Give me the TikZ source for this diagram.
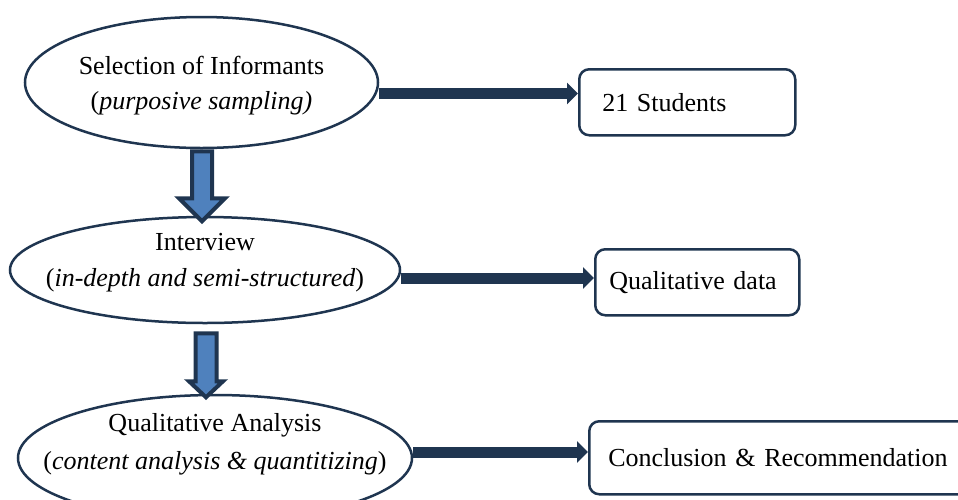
\documentclass[tikz,border=0pt]{standalone}
\usepackage{fontspec}
\setmainfont{Liberation Serif}
\usetikzlibrary{shapes.geometric,arrows.meta,calc}
\definecolor{navy}{HTML}{1F3550}
\definecolor{fillblue}{HTML}{4F81BD}
\tikzset{
  ell/.style={ellipse, draw=navy, line width=2.5pt, inner sep=0pt},
  elltext/.style={align=center, inner sep=0pt},
  boxn/.style={draw=navy, line width=2.5pt, rounded corners=10pt, anchor=north west,
    align=left, inner ysep=0pt, font=\fontsize{26}{32}\selectfont},
  harrow/.style={draw=navy, line width=11pt, -{Triangle[length=11pt,width=21pt]}},
  blockarrow/.style={draw=navy, fill=fillblue, line width=4pt, line join=miter}
}
\begin{document}
\begin{tikzpicture}[x=1pt,y=-1pt]
\useasboundingbox (0,0) rectangle (958,499);
\clip (0,0) rectangle (958,499);
% ellipses
\node[ell, minimum width=353, minimum height=131,
  label={[elltext, yshift=-3pt, font=\fontsize{26}{35}\selectfont]center:Selection of Informants\\(\textit{purposive sampling)}}] (e1) at (201.5,82.5) {};
\node[ell, minimum width=390, minimum height=106,
  label={[elltext, yshift=7pt, font=\fontsize{26}{36}\selectfont]center:Interview\\(\textit{in-depth and semi-structured})}] (e2) at (205,270) {};
\node[ell, minimum width=394, minimum height=126,
  label={[elltext, yshift=14pt, font=\fontsize{26}{38}\selectfont]center:Qualitative Analysis\\(\textit{content analysis \& quantitizing})}] (e3) at (215,458) {};
% boxes
\node[boxn, minimum width=206, minimum height=66, text width=170, inner xsep=23] (b1) at (578,68) {21 Students};
\node[boxn, minimum width=204, minimum height=66, text width=176, inner xsep=13] (b2) at (594,248) {Qualitative data};
\node[boxn, minimum width=400, minimum height=73, text width=370, inner xsep=19] (b3) at (588,420) {Conclusion \& Recommendation};
% horizontal arrows
\draw[harrow] ([yshift=-11pt]e1.east) -- ([yshift=-11pt]e1.east -| b1.west);
\draw[harrow] ([yshift=-8pt]e2.east) -- ([yshift=-8pt]e2.east -| b2.west);
\draw[harrow] ([yshift=6pt]e3.east) -- ([yshift=6pt]e3.east -| b3.west);
% block arrows
\draw[blockarrow] ([xshift=0.5pt]e1.south) ++(-10,2) -- ++(0,47) -- ++(-13,0) -- ++(23,23)
  -- ++(23,-23) -- ++(-13,0) -- ++(0,-47) -- cycle;
\draw[blockarrow] ([xshift=1pt]e2.south) ++(-10.5,9) -- ++(0,48) -- ++(-6.5,0) -- ++(17,16)
  -- ++(17,-16) -- ++(-6.5,0) -- ++(0,-48) -- cycle;
\end{tikzpicture}
\end{document}
